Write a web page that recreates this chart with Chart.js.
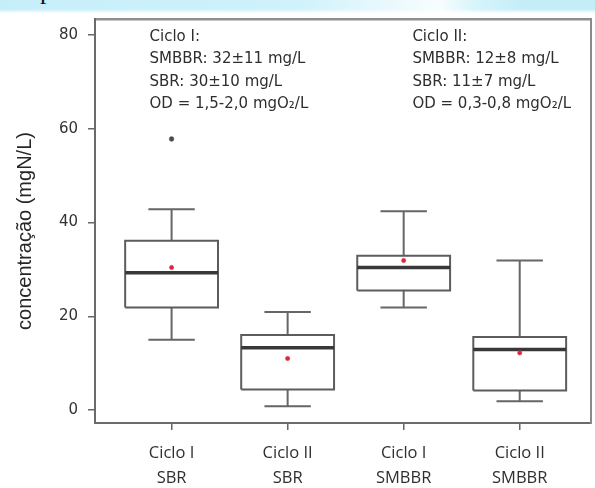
<!DOCTYPE html>
<html lang="pt">
<head>
<meta charset="utf-8">
<title>Concentração de N por ciclo e reator</title>
<script src="https://cdn.jsdelivr.net/npm/chart.js@4.4.1/dist/chart.umd.min.js"></script>
<style>
  html, body { margin: 0; padding: 0; background: #ffffff; }
  #wrap { position: relative; width: 595px; height: 488px; overflow: hidden; background: #ffffff; }
  #band {
    position: absolute; left: 0; top: 0; width: 595px; height: 13px;
    background: linear-gradient(to right, #c6eef9 0%, #cff2fb 50%, #eefafd 68%, #f7fdfe 74%, #d6f4fb 80%, #c4edf8 88%, #c4edf8 100%);
  }
  #band::after {
    content: ""; position: absolute; left: 0; right: 0; bottom: 0; height: 4px;
    background: linear-gradient(to bottom, rgba(255,255,255,0), rgba(255,255,255,0.9));
  }
  #cut {
    position: absolute; left: 40px; top: -21px; font: 26px/24px "Liberation Serif", serif; color: #111;
  }
  canvas { position: absolute; left: 0; top: 0; }
</style>
</head>
<body>
<div id="wrap">
  <div id="band"></div>
  <div id="cut">p</div>
  <canvas id="chart" width="595" height="488"></canvas>
</div>
<script>
// Groups on the x axis (two-line labels)
const categories = [
  ['Ciclo I', 'SBR'],
  ['Ciclo II', 'SBR'],
  ['Ciclo I', 'SMBBR'],
  ['Ciclo II', 'SMBBR']
];

// Box statistics per group, mg N/L
const lowerWhisker = [15.0, 0.8, 21.9, 1.9];
const lowerQuartile = [21.9, 4.4, 25.5, 4.2];
const medians = [29.3, 13.3, 30.4, 12.9];
const upperQuartile = [36.1, 16.0, 32.9, 15.6];
const upperWhisker = [42.8, 20.9, 42.4, 31.9];
const means = [30.4, 11.0, 31.9, 12.2];
const outliers = [[57.8], [], [], []];

// Axis ticks
const yTickValues = [0, 20, 40, 60, 80];
const yTitle = 'concentração (mgN/L)';

// Notes printed inside the plot
const notesCicloI = ['Ciclo I:', 'SMBBR: 32±11 mg/L', 'SBR: 30±10 mg/L', 'OD = 1,5-2,0 mgO₂/L'];
const notesCicloII = ['Ciclo II:', 'SMBBR: 12±8 mg/L', 'SBR: 11±7 mg/L', 'OD = 0,3-0,8 mgO₂/L'];

// ---- geometry of a box-and-whisker in x-axis units ----
const BOX_HALF = 0.4;
const CAP_HALF = 0.2;

// Turn a list of polylines into one point list with gaps between them
function polylines(lines) {
  const pts = [];
  lines.forEach(line => {
    line.forEach(([x, y]) => pts.push({ x, y }));
    pts.push({ x: line[0][0], y: null });
  });
  return pts;
}

const boxLines = [], whiskerLines = [], medianLines = [];
categories.forEach((_, i) => {
  const x = i + 1;
  const lo = lowerQuartile[i], hi = upperQuartile[i];
  boxLines.push([[x - BOX_HALF, lo], [x + BOX_HALF, lo], [x + BOX_HALF, hi], [x - BOX_HALF, hi], [x - BOX_HALF, lo]]);
  whiskerLines.push([[x, hi], [x, upperWhisker[i]]]);
  whiskerLines.push([[x - CAP_HALF, upperWhisker[i]], [x + CAP_HALF, upperWhisker[i]]]);
  whiskerLines.push([[x, lo], [x, lowerWhisker[i]]]);
  whiskerLines.push([[x - CAP_HALF, lowerWhisker[i]], [x + CAP_HALF, lowerWhisker[i]]]);
  medianLines.push([[x - BOX_HALF, medians[i]], [x + BOX_HALF, medians[i]]]);
});

const meanPoints = means.map((m, i) => ({ x: i + 1, y: m }));
const outlierPoints = [];
outliers.forEach((list, i) => list.forEach(v => outlierPoints.push({ x: i + 1, y: v })));

const X_MIN = 0.34, X_MAX = 4.61;
const Y_MIN = -2.75, Y_MAX = 83.38;

// Text blocks and rotated y title drawn with the chart's scales
const notesPlugin = {
  id: 'notes',
  afterDraw(chart, args, opts) {
    const { ctx, scales } = chart;
    const xs = scales.x, ys = scales.y;
    ctx.save();
    ctx.fillStyle = '#2e2e2e';
    ctx.font = '15px "DejaVu Sans", sans-serif';
    ctx.textAlign = 'left';
    ctx.textBaseline = 'middle';
    opts.blocks.forEach(b => {
      const x0 = xs.getPixelForValue(b.x);
      const y0 = ys.getPixelForValue(b.y);
      b.lines.forEach((t, k) => ctx.fillText(t, x0, y0 + k * opts.lineStep));
    });
    // y axis title
    const area = chart.chartArea;
    ctx.font = '20px "Liberation Sans", Arial, sans-serif';
    ctx.fillStyle = '#262626';
    ctx.translate(opts.titleX, (area.top + area.bottom) / 2 + opts.titleShift);
    ctx.rotate(-Math.PI / 2);
    ctx.textAlign = 'center';
    ctx.fillText(yTitle, 0, 0);
    ctx.restore();
  }
};

const lineStyle = { showLine: true, pointRadius: 0, spanGaps: false, borderCapStyle: 'butt', borderJoinStyle: 'miter', fill: false };

new Chart(document.getElementById('chart'), {
  type: 'scatter',
  data: {
    datasets: [
      { label: 'média', data: meanPoints, pointRadius: 2.2, pointBackgroundColor: '#d8283a', pointBorderColor: '#e0505e', pointBorderWidth: 0.5, showLine: false },
      { label: 'outlier', data: outlierPoints, pointRadius: 2.4, pointBackgroundColor: '#4a4a4a', pointBorderColor: '#666666', pointBorderWidth: 0.5, showLine: false },
      Object.assign({ label: 'mediana', data: polylines(medianLines), borderColor: '#383838', borderWidth: 3.5 }, lineStyle),
      Object.assign({ label: 'caixa', data: polylines(boxLines), borderColor: '#5c5c5c', borderWidth: 2 }, lineStyle),
      Object.assign({ label: 'bigodes', data: polylines(whiskerLines), borderColor: '#666666', borderWidth: 2 }, lineStyle)
    ]
  },
  options: {
    responsive: false,
    animation: false,
    events: [],
    layout: { padding: 0 },
    plugins: {
      legend: { display: false },
      tooltip: { enabled: false },
      notes: {
        blocks: [
          { x: 0.81, y: 79.6, lines: notesCicloI },
          { x: 3.075, y: 79.6, lines: notesCicloII }
        ],
        lineStep: 22.6,
        titleX: 25,
        titleShift: 10
      }
    },
    scales: {
      x: {
        type: 'linear',
        position: 'bottom',
        min: X_MIN, max: X_MAX,
        afterBuildTicks: s => { s.ticks = categories.map((_, i) => ({ value: i + 1 })); },
        afterFit: s => { s.height = 65; },
        ticks: {
          callback: v => categories[Math.round(v) - 1],
          color: '#2f2f2f',
          font: { family: '"Open Sans", sans-serif', size: 16.5, lineHeight: 1.56 },
          padding: 10,
          maxRotation: 0, autoSkip: false
        },
        grid: { display: true, drawOnChartArea: false, drawTicks: true, tickLength: 7, color: '#666666', lineWidth: 1.5 },
        border: { display: true, color: '#6a6a6a', width: 2 }
      },
      xTop: {
        type: 'linear', axis: 'x', position: 'top',
        min: X_MIN, max: X_MAX,
        afterFit: s => { s.height = 15; },
        ticks: { display: false },
        grid: { display: false },
        border: { display: true, color: '#8e8e8e', width: 2.5 }
      },
      y: {
        type: 'linear',
        position: 'left',
        min: Y_MIN, max: Y_MAX,
        afterBuildTicks: s => { s.ticks = yTickValues.map(v => ({ value: v })); },
        afterFit: s => { s.width = 95; },
        ticks: {
          color: '#333333',
          font: { family: '"DejaVu Sans", sans-serif', size: 15 },
          padding: 10
        },
        grid: { display: true, drawOnChartArea: false, drawTicks: true, tickLength: 7, color: '#666666', lineWidth: 1.5 },
        border: { display: true, color: '#6a6a6a', width: 2 }
      },
      yRight: {
        type: 'linear', axis: 'y', position: 'right',
        min: Y_MIN, max: Y_MAX,
        afterFit: s => { s.width = 2; },
        ticks: { display: false },
        grid: { display: false },
        border: { display: true, color: '#8a8a8a', width: 2 }
      }
    }
  },
  plugins: [notesPlugin]
});
</script>
</body>
</html>
